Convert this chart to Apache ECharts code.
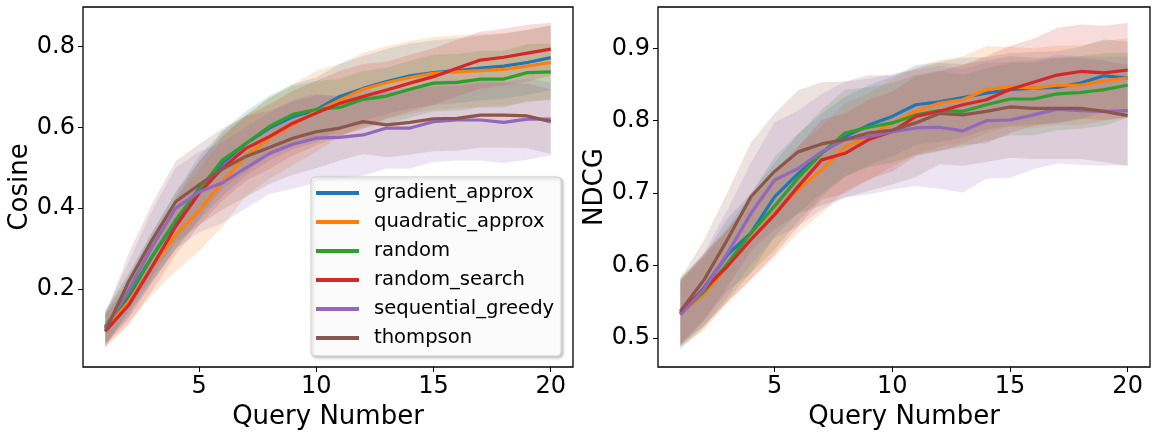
<!DOCTYPE html>
<html>
<head>
<meta charset="utf-8">
<script src="https://cdn.jsdelivr.net/npm/echarts@6/dist/echarts.min.js"></script>
<style>
  html, body { margin: 0; padding: 0; background: #fff; }
  #chart { width: 1153px; height: 432px; }
</style>
</head>
<body>
<div id="chart"></div>
<script>
var queries = [1, 2, 3, 4, 5, 6, 7, 8, 9, 10, 11, 12, 13, 14, 15, 16, 17, 18, 19, 20];
var methodNames = ['gradient_approx', 'quadratic_approx', 'random', 'random_search', 'sequential_greedy', 'thompson'];
var methodColors = ['#1f77b4', '#ff7f0e', '#2ca02c', '#d62728', '#9467bd', '#8c564b'];

// cosine means
var cosGradient = [0.104, 0.182, 0.281, 0.367, 0.449, 0.511, 0.560, 0.598, 0.626, 0.643, 0.676, 0.696, 0.713, 0.727, 0.735, 0.740, 0.746, 0.751, 0.760, 0.772];
var cosQuadratic = [0.100, 0.170, 0.256, 0.334, 0.394, 0.465, 0.530, 0.573, 0.606, 0.639, 0.667, 0.694, 0.710, 0.723, 0.733, 0.737, 0.740, 0.743, 0.751, 0.760];
var cosRandom = [0.108, 0.190, 0.281, 0.371, 0.445, 0.519, 0.560, 0.602, 0.632, 0.644, 0.649, 0.669, 0.677, 0.694, 0.709, 0.711, 0.719, 0.719, 0.735, 0.737];
var cosRandomSearch = [0.096, 0.161, 0.256, 0.355, 0.437, 0.499, 0.548, 0.577, 0.610, 0.635, 0.659, 0.676, 0.692, 0.709, 0.725, 0.746, 0.766, 0.773, 0.783, 0.793];
var cosSeqGreedy = [0.104, 0.198, 0.305, 0.400, 0.440, 0.463, 0.500, 0.535, 0.558, 0.573, 0.575, 0.581, 0.598, 0.598, 0.614, 0.618, 0.618, 0.612, 0.620, 0.620];
var cosThompson = [0.096, 0.219, 0.322, 0.416, 0.458, 0.497, 0.528, 0.550, 0.573, 0.589, 0.598, 0.614, 0.606, 0.612, 0.621, 0.622, 0.630, 0.630, 0.628, 0.614];

// cosine std (band half-width)
var cosGradientStd = [0.04, 0.05, 0.06, 0.07, 0.08, 0.08, 0.08, 0.08, 0.08, 0.08, 0.08, 0.08, 0.08, 0.08, 0.08, 0.08, 0.08, 0.08, 0.08, 0.08];
var cosQuadraticStd = [0.04, 0.05, 0.07, 0.09, 0.10, 0.11, 0.10, 0.10, 0.10, 0.10, 0.09, 0.09, 0.09, 0.09, 0.09, 0.09, 0.09, 0.09, 0.09, 0.09];
var cosRandomStd = [0.04, 0.05, 0.06, 0.07, 0.07, 0.07, 0.07, 0.07, 0.07, 0.07, 0.07, 0.07, 0.07, 0.07, 0.07, 0.07, 0.07, 0.07, 0.07, 0.07];
var cosRandomSearchStd = [0.04, 0.05, 0.06, 0.07, 0.08, 0.08, 0.08, 0.08, 0.08, 0.08, 0.08, 0.08, 0.07, 0.07, 0.07, 0.07, 0.07, 0.07, 0.07, 0.065];
var cosSeqGreedyStd = [0.04, 0.07, 0.09, 0.10, 0.10, 0.10, 0.10, 0.10, 0.11, 0.11, 0.10, 0.10, 0.10, 0.10, 0.10, 0.10, 0.10, 0.10, 0.10, 0.09];
var cosThompsonStd = [0.04, 0.07, 0.09, 0.10, 0.10, 0.10, 0.10, 0.09, 0.09, 0.09, 0.08, 0.08, 0.08, 0.08, 0.08, 0.08, 0.08, 0.08, 0.08, 0.08];

// ndcg means
var ndcgGradient = [0.534, 0.569, 0.615, 0.645, 0.695, 0.727, 0.755, 0.778, 0.794, 0.806, 0.822, 0.826, 0.832, 0.838, 0.843, 0.845, 0.846, 0.852, 0.862, 0.859];
var ndcgQuadratic = [0.534, 0.560, 0.599, 0.636, 0.672, 0.705, 0.732, 0.764, 0.778, 0.797, 0.813, 0.824, 0.829, 0.843, 0.847, 0.845, 0.849, 0.849, 0.855, 0.859];
var ndcgRandom = [0.534, 0.564, 0.603, 0.645, 0.682, 0.721, 0.755, 0.783, 0.791, 0.797, 0.808, 0.814, 0.813, 0.822, 0.830, 0.830, 0.837, 0.839, 0.843, 0.849];
var ndcgRandomSearch = [0.536, 0.567, 0.599, 0.636, 0.670, 0.709, 0.746, 0.755, 0.774, 0.785, 0.806, 0.813, 0.822, 0.829, 0.843, 0.853, 0.863, 0.868, 0.866, 0.870];
var ndcgSeqGreedy = [0.532, 0.567, 0.617, 0.672, 0.718, 0.734, 0.757, 0.774, 0.778, 0.785, 0.790, 0.791, 0.786, 0.800, 0.801, 0.808, 0.816, 0.814, 0.813, 0.814];
var ndcgThompson = [0.537, 0.580, 0.636, 0.695, 0.730, 0.757, 0.768, 0.774, 0.783, 0.787, 0.797, 0.810, 0.808, 0.813, 0.819, 0.817, 0.817, 0.817, 0.813, 0.807];

// ndcg std
var ndcgGradientStd = [0.045, 0.045, 0.05, 0.055, 0.055, 0.055, 0.055, 0.055, 0.055, 0.055, 0.055, 0.055, 0.055, 0.05, 0.05, 0.05, 0.05, 0.05, 0.05, 0.05];
var ndcgQuadraticStd = [0.045, 0.05, 0.05, 0.055, 0.06, 0.06, 0.06, 0.06, 0.06, 0.06, 0.06, 0.06, 0.06, 0.06, 0.055, 0.055, 0.055, 0.055, 0.055, 0.055];
var ndcgRandomStd = [0.05, 0.05, 0.05, 0.055, 0.06, 0.06, 0.06, 0.06, 0.055, 0.055, 0.055, 0.055, 0.05, 0.05, 0.05, 0.05, 0.05, 0.05, 0.05, 0.045];
var ndcgRandomSearchStd = [0.045, 0.05, 0.05, 0.055, 0.055, 0.055, 0.055, 0.055, 0.055, 0.055, 0.055, 0.055, 0.055, 0.06, 0.06, 0.06, 0.065, 0.065, 0.065, 0.065];
var ndcgSeqGreedyStd = [0.045, 0.05, 0.06, 0.07, 0.08, 0.08, 0.08, 0.08, 0.08, 0.08, 0.08, 0.085, 0.085, 0.08, 0.08, 0.075, 0.075, 0.075, 0.075, 0.075];
var ndcgThompsonStd = [0.045, 0.055, 0.065, 0.075, 0.08, 0.085, 0.085, 0.08, 0.08, 0.075, 0.075, 0.07, 0.07, 0.07, 0.07, 0.07, 0.07, 0.07, 0.07, 0.07];

var xTicks = [5, 10, 15, 20];
var cosTicks = [0.2, 0.4, 0.6, 0.8];
var ndcgTicks = [0.5, 0.6, 0.7, 0.8, 0.9];

var cosMeans = [cosGradient, cosQuadratic, cosRandom, cosRandomSearch, cosSeqGreedy, cosThompson];
var cosStds = [cosGradientStd, cosQuadraticStd, cosRandomStd, cosRandomSearchStd, cosSeqGreedyStd, cosThompsonStd];
var ndcgMeans = [ndcgGradient, ndcgQuadratic, ndcgRandom, ndcgRandomSearch, ndcgSeqGreedy, ndcgThompson];
var ndcgStds = [ndcgGradientStd, ndcgQuadraticStd, ndcgRandomStd, ndcgRandomSearchStd, ndcgSeqGreedyStd, ndcgThompsonStd];

var FONT = 'DejaVu Sans';

function buildSeries(idx, means, stds) {
    var bands = [], lines = [];
    methodNames.forEach(function (name, k) {
        var m = means[k], s = stds[k];
        // [x, lower, upper] per query
        var bandData = queries.map(function (q, i) { return [q, m[i] - s[i], m[i] + s[i]]; });
        bands.push({
            name: name + ' band', type: 'custom', xAxisIndex: idx, yAxisIndex: idx,
            data: bandData, encode: { x: 0, y: [1, 2] }, silent: true, z: 1,
            renderItem: function (params, api) {
                if (params.dataIndex !== 0) return null;
                var top = [], bottom = [];
                bandData.forEach(function (d) {
                    top.push(api.coord([d[0], d[2]]));
                    bottom.unshift(api.coord([d[0], d[1]]));
                });
                return {
                    type: 'polygon',
                    shape: { points: top.concat(bottom) },
                    style: { fill: methodColors[k], opacity: 0.17 }
                };
            }
        });
        lines.push({
            name: name, type: 'line', xAxisIndex: idx, yAxisIndex: idx,
            data: queries.map(function (q, i) { return [q, m[i]]; }),
            symbol: 'none', color: methodColors[k],
            lineStyle: { width: 3.2, color: methodColors[k] }, z: 3
        });
    });
    return bands.concat(lines);
}

function xAxisOpt(idx) {
    return {
        type: 'value', gridIndex: idx, min: 0.05, max: 20.95,
        name: 'Query Number', nameLocation: 'middle', nameGap: 27,
        nameTextStyle: { fontFamily: FONT, fontSize: 26, color: '#000' },
        axisLine: { show: false },
        axisTick: { show: true, length: 5, customValues: xTicks, lineStyle: { color: '#000' } },
        axisLabel: { customValues: xTicks, margin: 8, fontFamily: FONT, fontSize: 24, color: '#000' },
        splitLine: { show: false }
    };
}

function yAxisOpt(idx, name, min, max, ticks) {
    return {
        type: 'value', gridIndex: idx, min: min, max: max,
        name: name, nameLocation: 'middle', nameRotate: 90, nameGap: 48,
        nameTextStyle: { fontFamily: FONT, fontSize: 26, color: '#000' },
        axisLine: { show: false },
        axisTick: { show: true, length: 5, customValues: ticks, lineStyle: { color: '#000' } },
        axisLabel: {
            customValues: ticks, margin: 8, fontFamily: FONT, fontSize: 24, color: '#000',
            formatter: function (v) { return v.toFixed(1); }
        },
        splitLine: { show: false }
    };
}

var chart = echarts.init(document.getElementById('chart'), null, { renderer: 'canvas' });
var option = {
    animation: false,
    backgroundColor: '#fff',
    grid: [
        { left: 83, top: 7, width: 490, height: 360, show: true, borderColor: '#000', borderWidth: 1.3, backgroundColor: 'transparent', outerBoundsMode: 'none' },
        { left: 658, top: 7, width: 492, height: 360, show: true, borderColor: '#000', borderWidth: 1.3, backgroundColor: 'transparent', outerBoundsMode: 'none' }
    ],
    xAxis: [xAxisOpt(0), xAxisOpt(1)],
    yAxis: [
        yAxisOpt(0, 'Cosine', 0.008, 0.897, cosTicks),
        yAxisOpt(1, 'NDCG', 0.46, 0.957, ndcgTicks)
    ],
    legend: {
        data: methodNames,
        orient: 'vertical',
        left: 311, top: 177,
        icon: 'rect',
        itemWidth: 43, itemHeight: 4, itemGap: 9,
        padding: [6, 7, 8, 5],
        backgroundColor: 'rgba(255,255,255,0.93)',
        borderColor: '#d0d0d0', borderWidth: 1, borderRadius: 4,
        shadowColor: 'rgba(0,0,0,0.25)', shadowBlur: 3, shadowOffsetX: 1.5, shadowOffsetY: 1.5,
        textStyle: { fontFamily: FONT, fontSize: 19.6, color: '#000', lineHeight: 20, padding: [0, 0, 0, 10] }
    },
    series: buildSeries(0, cosMeans, cosStds).concat(buildSeries(1, ndcgMeans, ndcgStds))
};
chart.setOption(option);
</script>
</body>
</html>
